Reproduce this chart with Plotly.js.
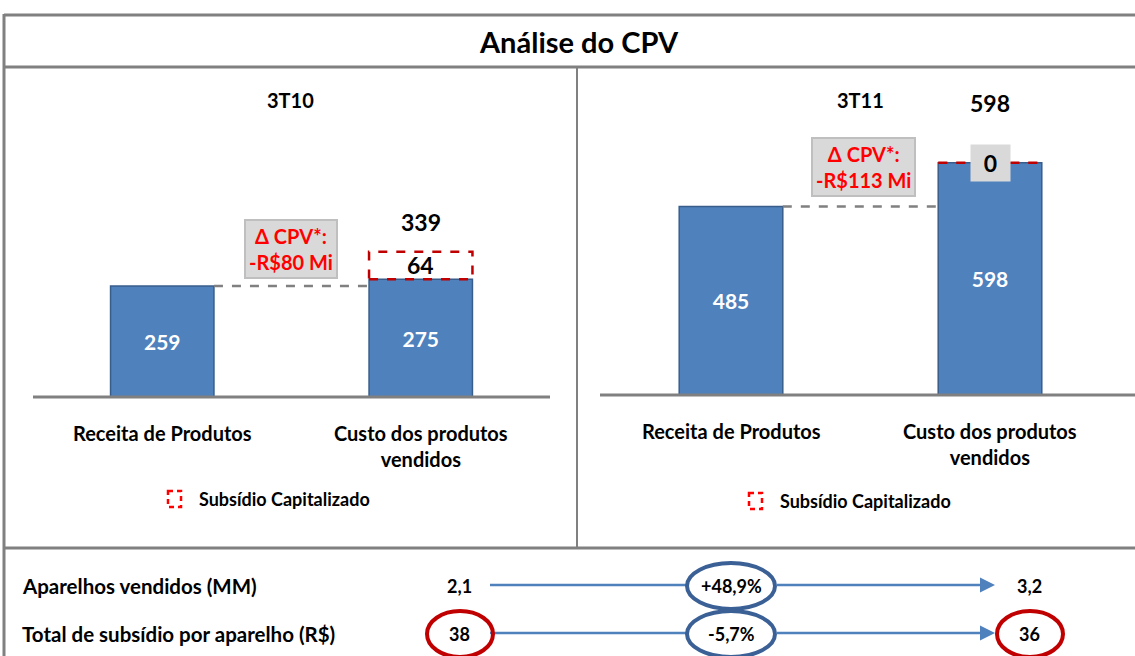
<!DOCTYPE html>
<html><head><meta charset="utf-8">
<script src="https://cdn.plot.ly/plotly-3.0.1.min.js"></script>
<style>html,body{margin:0;padding:0;background:#fff}#chart{width:1135px;height:656px}</style>
</head><body><div id="chart"></div>
<script>
// ---- data ----
const chartTitle = 'Análise do CPV';
const categories = ['Receita de Produtos', 'Custo dos produtos<br>vendidos'];
const periods = ['3T10', '3T11'];
const base3T10 = [259, 275];
const subsidy3T10 = [0, 64];
const base3T11 = [485, 598];
const subsidy3T11 = [0, 0];
const deltaCPV = ['-R$80 Mi', '-R$113 Mi'];
const legendLabel = 'Subsídio Capitalizado';
const rowLabels = ['Aparelhos vendidos (MM)', 'Total de subsídio por aparelho (R$)'];
const rowValues3T10 = ['2,1', '38'];
const rowValues3T11 = ['3,2', '36'];
const rowChanges = ['+48,9%', '-5,7%'];

// ---- helpers ----
const W = 1135, H = 656;
const px = x => x / W;
const py = y => 1 - y / H;
const FONT = 'Lato, "Open Sans", sans-serif';
const BLUE = '#4f81bd', BLUE_EDGE = '#385d8a', GRAY = '#808080';
const BW = 0.4;

const totals3T10 = base3T10.map((v, i) => v + subsidy3T10[i]);
const totals3T11 = base3T11.map((v, i) => v + subsidy3T11[i]);

function barTrace(vals, xa, ya) {
  return {
    type: 'bar', x: categories, y: vals, xaxis: xa, yaxis: ya, width: BW,
    marker: {color: BLUE, line: {color: BLUE_EDGE, width: 1.5}},
    text: vals.map(String), textposition: 'inside', insidetextanchor: 'middle',
    textfont: {family: FONT, size: 21, color: '#fff', weight: 'bold'},
    hoverinfo: 'skip', showlegend: false, cliponaxis: false
  };
}

const data = [barTrace(base3T10, 'x', 'y'), barTrace(base3T11, 'x2', 'y2')];

const shapes = [];
const annotations = [];

function note(o) {
  annotations.push(Object.assign({xref: 'paper', yref: 'paper', showarrow: false, xanchor: 'center', yanchor: 'middle'}, o));
}

// frame
const frameLine = {color: GRAY, width: 3};
shapes.push({type: 'line', xref: 'paper', yref: 'paper', x0: px(4), x1: px(1135), y0: py(15), y1: py(15), line: frameLine});
shapes.push({type: 'line', xref: 'paper', yref: 'paper', x0: px(4), x1: px(1135), y0: py(67), y1: py(67), line: frameLine});
shapes.push({type: 'line', xref: 'paper', yref: 'paper', x0: px(4), x1: px(1135), y0: py(548), y1: py(548), line: frameLine});
shapes.push({type: 'line', xref: 'paper', yref: 'paper', x0: px(4), x1: px(4), y0: py(14), y1: py(660), line: frameLine});
shapes.push({type: 'line', xref: 'paper', yref: 'paper', x0: px(577), x1: px(577), y0: py(67), y1: py(548), line: {color: GRAY, width: 2}});

// baselines
shapes.push({type: 'line', xref: 'paper', yref: 'paper', x0: px(33), x1: px(550), y0: py(397), y1: py(397), line: {color: GRAY, width: 3}});
shapes.push({type: 'line', xref: 'paper', yref: 'paper', x0: px(600), x1: px(1135), y0: py(395), y1: py(395), line: {color: GRAY, width: 3}});

note({x: px(579), y: py(42), text: '<b>' + chartTitle + '</b>', font: {family: FONT, size: 29, color: '#000'}});

function panel(xa, ya, base, subsidy, totals, period, delta, periodPos, deltaPos, totalShift, legendPos) {
  const xr = xa, yr = ya;
  shapes.push({type: 'line', xref: xr, yref: yr, x0: 0 + BW / 2, x1: 1 - BW / 2, y0: base[0], y1: base[0],
    line: {color: GRAY, width: 2.5, dash: 'dash'}, layer: 'above'});
  shapes.push({type: 'rect', xref: xr, yref: yr, x0: 1 - BW / 2, x1: 1 + BW / 2, y0: base[1], y1: totals[1],
    line: {color: '#c00000', width: 2.5, dash: 'dash'}, fillcolor: 'rgba(0,0,0,0)', layer: 'above'});
  if (subsidy[1] > 0) {
    annotations.push({xref: xr, yref: yr, x: categories[1], y: (base[1] + totals[1]) / 2, text: '<b>' + subsidy[1] + '</b>',
      showarrow: false, font: {family: FONT, size: 23, color: '#000'}, xanchor: 'center', yanchor: 'middle'});
  } else {
    annotations.push({xref: xr, yref: yr, x: categories[1], y: totals[1], text: '<b>' + subsidy[1] + '</b>',
      showarrow: false, font: {family: FONT, size: 23, color: '#000'}, xanchor: 'center', yanchor: 'middle',
      bgcolor: '#d9d9d9', borderpad: 4, width: 31});
  }
  annotations.push({xref: xr, yref: yr, x: categories[1], y: totals[1], yshift: totalShift, text: '<b>' + totals[1] + '</b>',
    showarrow: false, font: {family: FONT, size: 23, color: '#000'}, xanchor: 'center', yanchor: 'middle'});
  note({x: px(periodPos[0]), y: py(periodPos[1]), text: '<b>' + period + '</b>', font: {family: FONT, size: 20, color: '#000'}});
  note({x: px(deltaPos[0]), y: py(deltaPos[1]), text: '<b>Δ CPV*:<br>' + delta + '</b>', align: 'center',
    font: {family: FONT, size: 20, color: '#ff0000'}, bgcolor: '#d9d9d9', bordercolor: '#bfbfbf', borderwidth: 2, borderpad: 3});
  categories.forEach(c => {
    annotations.push({xref: xr, yref: 'paper', x: c, y: py(periodPos[2]), text: '<b>' + c + '</b>', showarrow: false,
      font: {family: FONT, size: 20, color: '#000'}, xanchor: 'center', yanchor: 'top', align: 'center'});
  });
  shapes.push({type: 'rect', xref: 'paper', yref: 'paper', x0: px(legendPos[0]), x1: px(legendPos[0] + 13),
    y0: py(legendPos[1] - 8), y1: py(legendPos[1] + 8), line: {color: '#ff0000', width: 2.5, dash: '5px,4px'}});
  note({x: px(legendPos[0] + 29), y: py(legendPos[1]), text: '<b>' + legendLabel + '</b>', xanchor: 'left',
    font: {family: FONT, size: 18, color: '#000'}});
}

panel('x', 'y', base3T10, subsidy3T10, totals3T10, periods[0], deltaCPV[0], [290, 100, 419], [291, 249], 30, [168, 499]);
panel('x2', 'y2', base3T11, subsidy3T11, totals3T11, periods[1], deltaCPV[1], [860, 100, 417], [863, 167], 60, [749, 501]);

// bottom rows
const rowY = [586, 634];
rowLabels.forEach((lab, i) => {
  const y = rowY[i];
  note({x: px(20), y: py(y), text: '<b>' + lab + '</b>', xanchor: 'left', font: {family: FONT, size: 20.5, color: '#000'}});
  shapes.push({type: 'line', xref: 'paper', yref: 'paper', x0: px(490), x1: px(687), y0: py(y - 1), y1: py(y - 1),
    line: {color: BLUE, width: 2.5}});
  annotations.push({xref: 'paper', yref: 'paper', x: px(995), y: py(y - 1), ax: -220, ay: 0, text: '', showarrow: true,
    arrowhead: 2, arrowsize: 1.2, arrowwidth: 2.5, arrowcolor: BLUE});
  shapes.push({type: 'circle', xref: 'paper', yref: 'paper', x0: px(687), x1: px(775), y0: py(y - 23), y1: py(y + 23),
    line: {color: '#3a6096', width: 4}, fillcolor: 'rgba(255,255,255,0)'});
  note({x: px(731), y: py(y), text: '<b>' + rowChanges[i] + '</b>', font: {family: FONT, size: 18, color: '#000'}});
  note({x: px(459), y: py(y), text: '<b>' + rowValues3T10[i] + '</b>', font: {family: FONT, size: 18, color: '#000'}});
  note({x: px(1029), y: py(y), text: '<b>' + rowValues3T11[i] + '</b>', font: {family: FONT, size: 18, color: '#000'}});
  if (i === 1) {
    [460, 1030].forEach(cx => {
      shapes.push({type: 'circle', xref: 'paper', yref: 'paper', x0: px(cx - 33), x1: px(cx + 33), y0: py(y - 23), y1: py(y + 23),
        line: {color: '#c00000', width: 4}, fillcolor: 'rgba(255,255,255,0)'});
    });
  }
});

const layout = {
  width: W, height: H, margin: {l: 0, r: 0, t: 0, b: 0}, paper_bgcolor: '#fff', plot_bgcolor: 'rgba(0,0,0,0)',
  showlegend: false, bargap: 0,
  xaxis: {domain: [px(33), px(550)], range: [-0.5, 1.5], type: 'category', visible: false, fixedrange: true},
  yaxis: {domain: [py(397), py(70)], range: [0, 327 / 0.4286], visible: false, fixedrange: true},
  xaxis2: {domain: [px(601.5), px(1119.5)], range: [-0.5, 1.5], type: 'category', visible: false, fixedrange: true, anchor: 'y2'},
  yaxis2: {domain: [py(395), py(70)], range: [0, 325 / 0.3885], visible: false, fixedrange: true, anchor: 'x2'},
  shapes: shapes, annotations: annotations
};

Plotly.newPlot('chart', data, layout, {displayModeBar: false, staticPlot: true});
</script></body></html>
